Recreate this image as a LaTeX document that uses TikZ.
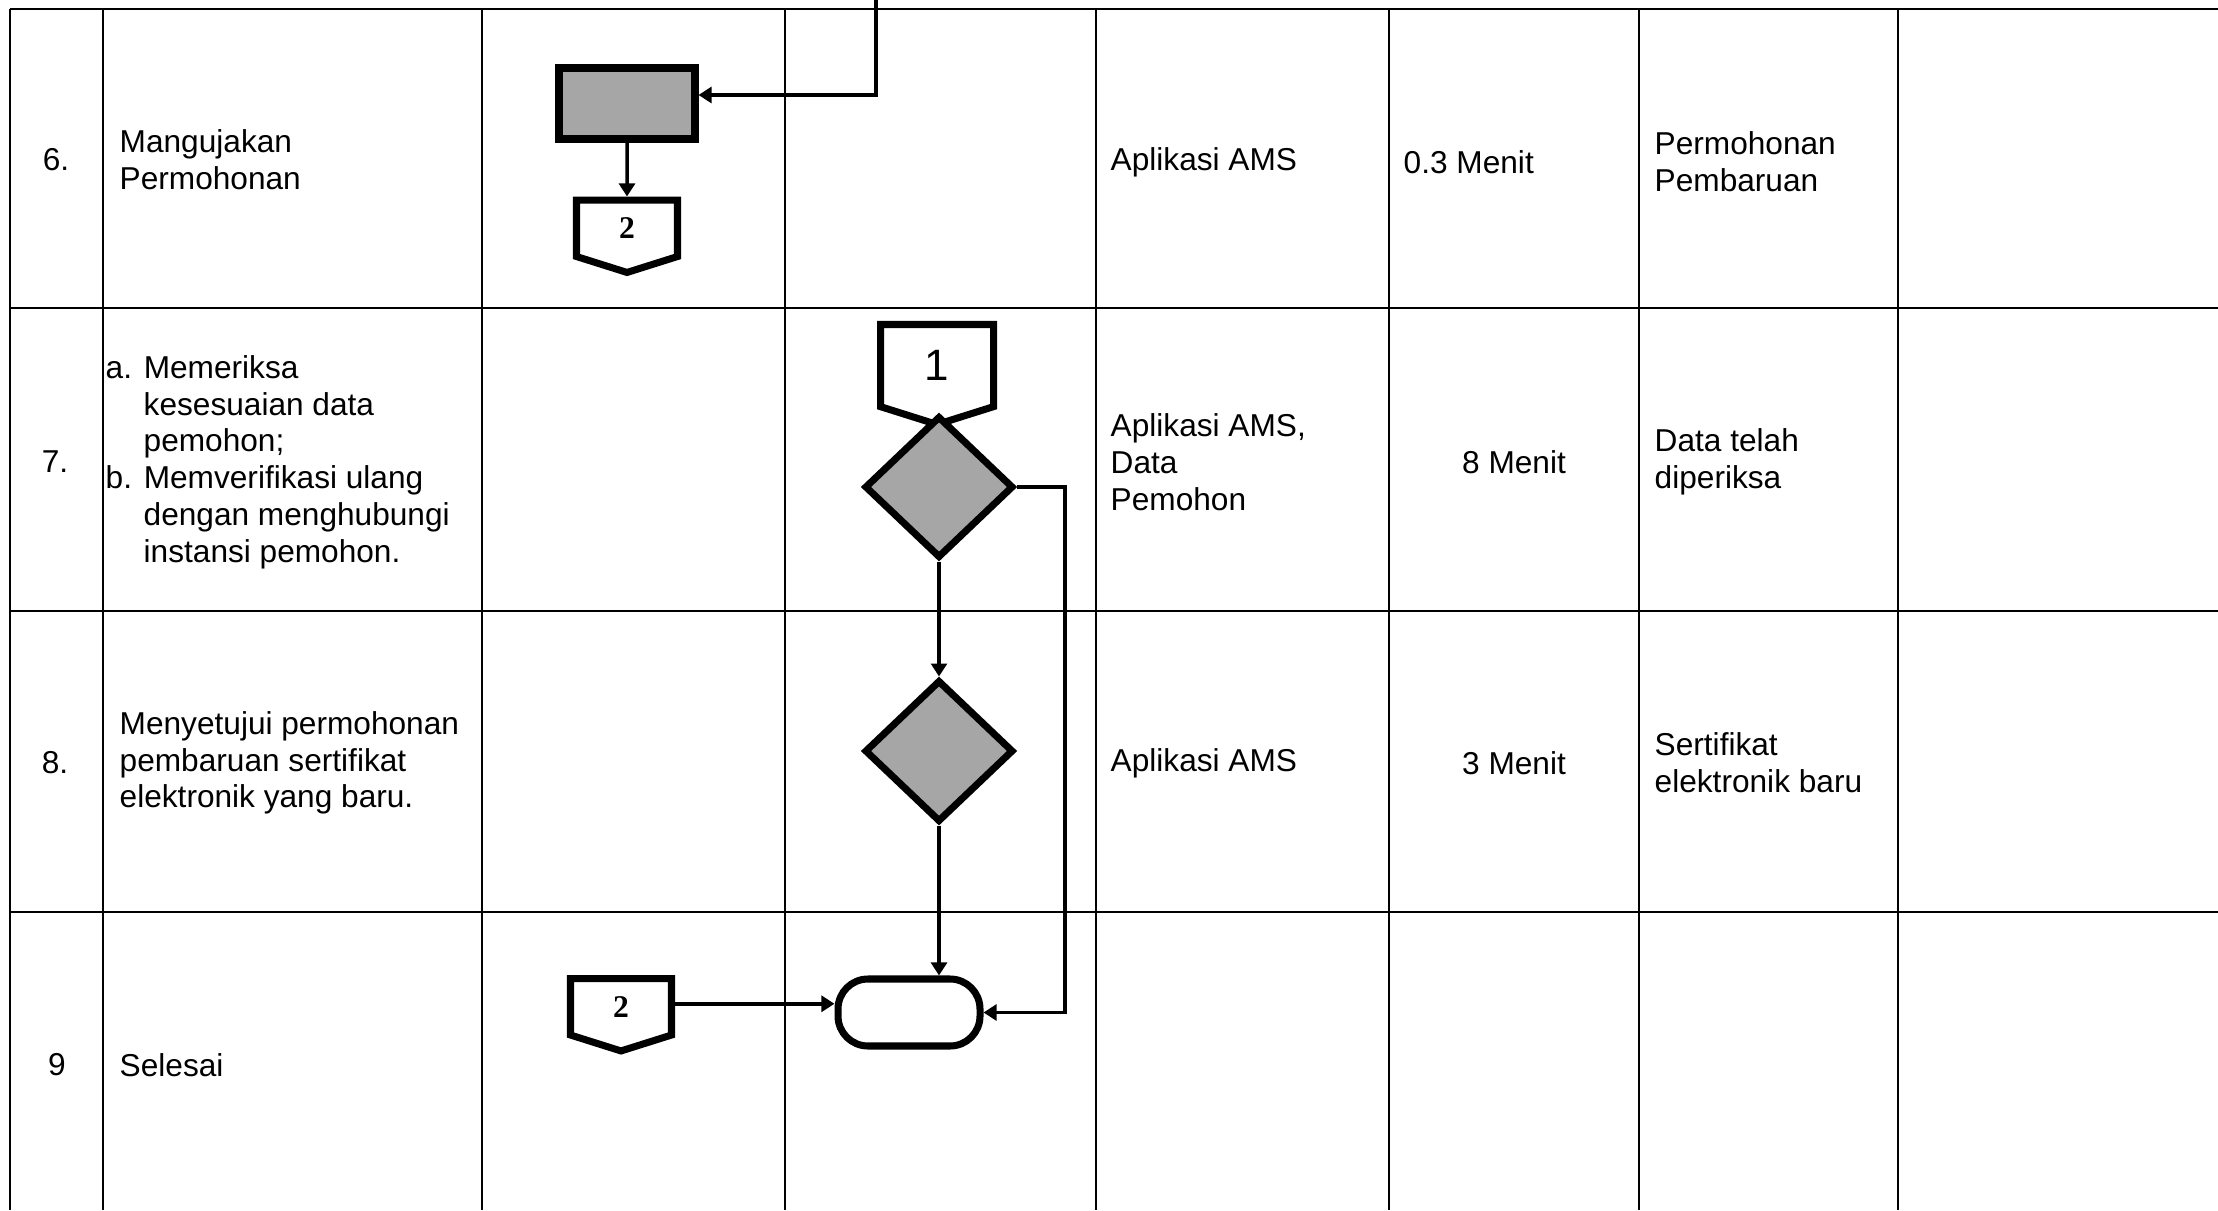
\documentclass[tikz,border=0pt]{standalone}
\usepackage{fontspec}
\setmainfont{Liberation Sans}
\newfontfamily\serifnum{Liberation Serif}
\usetikzlibrary{arrows.meta,
                positioning,
                shapes.geometric,
                shapes.symbols}

\begin{document}
\begin{tikzpicture}[
    font=\fontsize{9}{10.45}\selectfont,
      grid/.style = {line width=0.8pt},
      base/.style = {draw, line width=2pt, inner sep=0pt},
   process/.style = {base, rectangle, fill=gray!70, minimum width=13.6mm, minimum height=7.1mm},
  decision/.style = {base, diamond, fill=gray!70, minimum width=14.9mm, minimum height=14.2mm},
 startstop/.style = {base, rectangle, rounded corners=3mm, minimum width=14.2mm, minimum height=6.7mm},
   offpage/.style = {base, signal, signal to=south, signal pointer angle=145, fill=white},
     label/.style = {inner sep=0pt, align=left, anchor=west},
      flow/.style = {line width=1pt, -{Triangle[length=3.7pt, width=4.5pt]}}
                    ]
  \useasboundingbox (0,0) rectangle (22.18,-12.10);
  % tabel
  \draw [grid] (0.10,-0.09) -- (22.18,-0.09);
  \draw [grid] (0.10,-3.08) -- (22.18,-3.08);
  \draw [grid] (0.10,-6.11) -- (22.18,-6.11);
  \draw [grid] (0.10,-9.12) -- (22.18,-9.12);
  \draw [grid] (0.10,-0.09) -- (0.10,-12.10);
  \draw [grid] (1.03,-0.09) -- (1.03,-12.10);
  \draw [grid] (4.82,-0.09) -- (4.82,-12.10);
  \draw [grid] (7.85,-0.09) -- (7.85,-12.10);
  \draw [grid] (10.96,-0.09) -- (10.96,-12.10);
  \draw [grid] (13.89,-0.09) -- (13.89,-12.10);
  \draw [grid] (16.39,-0.09) -- (16.39,-12.10);
  \draw [grid] (18.98,-0.09) -- (18.98,-12.10);
  %
  \node [process]  (ajukan) at (6.27,-1.035) {};
  \node [offpage, minimum width=10.1mm, minimum height=5.9mm, below=5.4mm of ajukan] (keB) {\serifnum\bfseries 2};
  \coordinate (dariA) at (8.76,0);
  %
  \node [offpage, minimum width=11.3mm, minimum height=8.6mm, anchor=north,
         font=\fontsize{12.5}{14}\selectfont] (dariC) at (9.37,-3.21) {1};
  \node [decision] (periksa) at (9.39,-4.87) {};
  \node [decision, below=11.5mm of periksa] (setuju) {};
  %
  \node [startstop] (selesai) at (9.09,-10.125) {};
  \node [offpage, minimum width=10.1mm, minimum height=5.9mm, anchor=north] (keB2) at (6.21,-9.75) {\serifnum\bfseries 2};
  %---
  \draw [flow] (dariA) |- ([yshift=0.85mm]ajukan.east);
  \draw [flow] (ajukan) -- (keB);
  \draw [flow] (periksa) -- (setuju);
  \draw [flow] (setuju.south) -- (setuju.south |- selesai.north);
  \draw [flow] (periksa.east) -- ++(0.48,0) |- (selesai.east);
  \draw [flow] ([yshift=0.3mm]keB2.east) -- ([yshift=0.3mm]keB2.east -| selesai.west);
  %%%%%% baris 6
  \node at (0.56,-1.60) (no6) {6.};
  \node [label] at (1.19,-1.60) (akt6) {Mangujakan\\Permohonan};
  \node [label] at (11.10,-1.62) (alat6) {Aplikasi AMS};
  \node [label] at (14.03,-1.62) (waktu6) {0.3 Menit};
  \node [label] at (16.54,-1.62) (hasil6) {Permohonan\\Pembaruan};
  %%%%%% baris 7
  \node at (0.55,-4.62) (no7) {7.};
  \node [label] at (1.05,-4.62) (akt7) {a. Memeriksa\\\hspace*{0.38cm}kesesuaian data\\\hspace*{0.38cm}pemohon;\\b. Memverifikasi ulang\\\hspace*{0.38cm}dengan menghubungi\\\hspace*{0.38cm}instansi pemohon.};
  \node [label] at (11.10,-4.62) (alat7) {Aplikasi AMS,\\Data\\Pemohon};
  \node at (15.14,-4.62) (waktu7) {8 Menit};
  \node [label] at (16.54,-4.62) (hasil7) {Data telah\\diperiksa};
  %%%%%% baris 8
  \node at (0.55,-7.63) (no8) {8.};
  \node [label] at (1.19,-7.63) (akt8) {Menyetujui permohonan\\pembaruan sertifikat\\elektronik yang baru.};
  \node [label] at (11.10,-7.63) (alat8) {Aplikasi AMS};
  \node at (15.14,-7.63) (waktu8) {3 Menit};
  \node [label] at (16.54,-7.63) (hasil8) {Sertifikat\\elektronik baru};
  %%%%%% baris 9
  \node at (0.57,-10.65) (no9) {9};
  \node [label] at (1.19,-10.65) (akt9) {Selesai};
\end{tikzpicture}
\end{document}
